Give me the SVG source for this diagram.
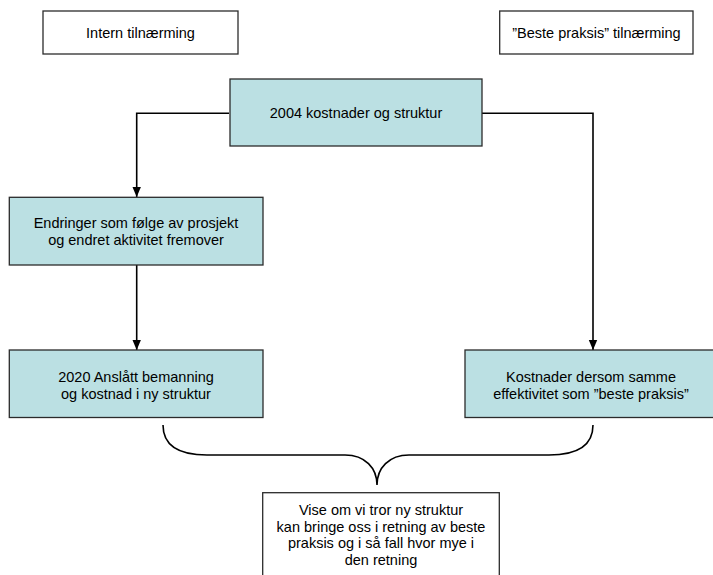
<svg xmlns="http://www.w3.org/2000/svg" width="713" height="575" viewBox="0 0 713 575">
<defs>
<style>
.box{stroke:#2b2b2b;stroke-width:1.3}
.fill{fill:#bbe0e3}
.plain{fill:#ffffff}
.t{font-family:"Liberation Sans",Arial,sans-serif;font-size:14.5px;fill:#000;text-anchor:middle}
.c{fill:none;stroke:#000;stroke-width:1.6}
</style>
<marker id="ah" markerWidth="10" markerHeight="10" viewBox="0 0 10 10" refX="10" refY="5" orient="auto" markerUnits="userSpaceOnUse">
<path d="M0,0.8 L10,5 L0,9.2 Z" fill="#000"/>
</marker>
</defs>
<rect width="713" height="575" fill="#ffffff"/>
<g id="connectors">
<path class="c" d="M229,113.3 H136.7 V197" marker-end="url(#ah)"/>
<path class="c" d="M136.7,256.7 V350" marker-end="url(#ah)"/>
<path class="c" d="M482,113.3 H593 V350" marker-end="url(#ah)"/>
<path class="c" d="M163,425 C163,445 178,455 207,455 L345,455 C365,455 377,468 377,485 C377,468 389,455 409,455 L549,455 C578,455 593,445 593,425"/>
</g>
<g id="intern">
<rect class="box plain" x="43" y="11" width="195" height="43"/>
<text class="t" x="140.5" y="38">Intern tilnærming</text>
</g>
<g id="beste">
<rect class="box plain" x="499.7" y="11" width="193.3" height="43"/>
<text class="t" x="596.5" y="38">”Beste praksis” tilnærming</text>
</g>
<g id="n2004">
<rect class="box fill" x="230" y="79" width="252" height="67"/>
<text class="t" x="356" y="118.3">2004 kostnader og struktur</text>
</g>
<g id="endringer">
<rect class="box fill" x="9.3" y="197.3" width="253.7" height="67.7"/>
<text class="t" x="136" y="227.7">Endringer som følge av prosjekt</text>
<text class="t" x="136" y="245">og endret aktivitet fremover</text>
</g>
<g id="n2020">
<rect class="box fill" x="9.3" y="350" width="253.7" height="67.5"/>
<text class="t" x="136" y="381.7">2020 Anslått bemanning</text>
<text class="t" x="136" y="399"> og kostnad i ny struktur</text>
</g>
<g id="kostnader">
<rect class="box fill" x="465" y="350" width="253" height="67.5"/>
<text class="t" x="591" y="381.7">Kostnader dersom samme</text>
<text class="t" x="591" y="399">effektivitet som ”beste praksis”</text>
</g>
<g id="vise">
<rect class="box plain" x="262.7" y="492.7" width="236.6" height="100"/>
<text class="t" x="381" y="515">Vise om vi tror ny struktur</text>
<text class="t" x="381" y="531.7">kan bringe oss i retning av beste</text>
<text class="t" x="381" y="548.3">praksis og i så fall hvor mye i</text>
<text class="t" x="381" y="565">den retning</text>
</g>
</svg>
